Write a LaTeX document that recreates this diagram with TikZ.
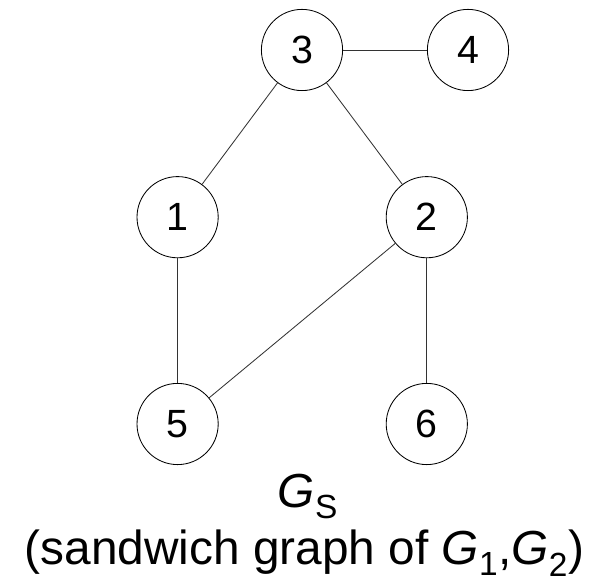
\documentclass[tikz,border=0pt]{standalone}
\usepackage{fontspec}
\setmainfont{Liberation Sans}
\usepackage{tikz}

\begin{document}
\begin{tikzpicture}[
        vertex/.style={draw, circle, line width=0.6pt, minimum size=2.03cm,
            inner sep=0pt, font=\fontsize{28}{32}\selectfont},
        edge/.style={line width=0.6pt, draw=black!80},
        label/.style={anchor=base, font=\fontsize{34}{40}\selectfont}
    ]
        \useasboundingbox (0,0) rectangle (15.075,14.5);

        % Top row
        \node[vertex] (v3) at (7.55,13.25) {3};
        \node[vertex] (v4) at (11.7,13.25) {4};

        % Middle row
        \node[vertex] (v1) at (4.44,9.07) {1};
        \node[vertex] (v2) at (10.67,9.07) {2};

        % Bottom row
        \node[vertex] (v5) at (4.44,3.9) {5};
        \node[vertex] (v6) at (10.67,3.9) {6};

        % Edges
        \draw[edge] (v3) -- (v4);
        \draw[edge] (v3) -- (v1);
        \draw[edge] (v3) -- (v2);
        \draw[edge] (v1) -- (v5);
        \draw[edge] (v2) -- (v5);
        \draw[edge] (v2) -- (v6);

        % Name and caption
        \node[label] (gname) at (7.7,1.82) {\textit{G}\textsubscript{S}};
        \node[label] (caption) at (7.61,0.38)
            {(sandwich graph of \textit{G}\textsubscript{1},\textit{G}\textsubscript{2})};
\end{tikzpicture}
\end{document}
